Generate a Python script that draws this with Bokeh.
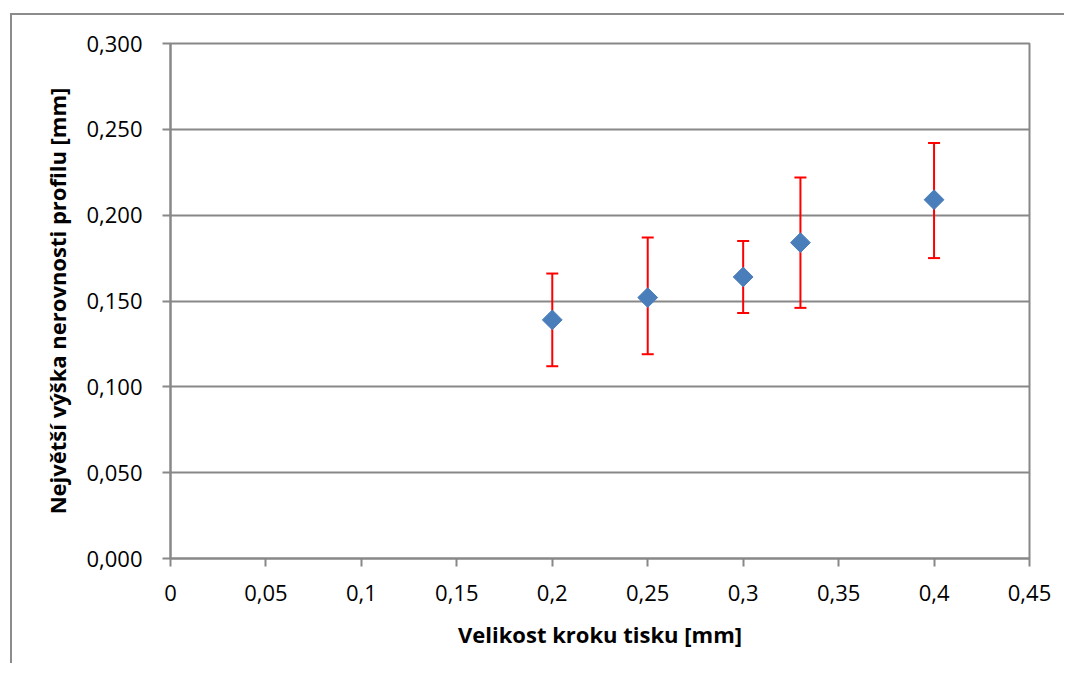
from bokeh.plotting import figure
from bokeh.models import Range1d, FixedTicker
from bokeh.embed import file_html
from bokeh.resources import INLINE
import math

# data
step = [0.2, 0.25, 0.3, 0.33, 0.4]
rz = [0.139, 0.152, 0.164, 0.184, 0.209]
rz_upper = [0.166, 0.187, 0.185, 0.222, 0.242]
rz_lower = [0.112, 0.119, 0.143, 0.146, 0.175]

x_ticks = [0, 0.05, 0.1, 0.15, 0.2, 0.25, 0.3, 0.35, 0.4, 0.45]
x_labels = ["0", "0,05", "0,1", "0,15", "0,2", "0,25", "0,3", "0,35", "0,4", "0,45"]
y_ticks = [0, 0.05, 0.1, 0.15, 0.2, 0.25, 0.3]
y_labels = ["0,000", "0,050", "0,100", "0,150", "0,200", "0,250", "0,300"]

FONT = "Open Sans"
GRAY = "#888888"

p = figure(width=1054, height=650, output_backend="svg", toolbar_location=None,
           x_range=Range1d(0, 0.45), y_range=Range1d(0, 0.3),
           min_border_left=158, min_border_right=37, min_border_top=28, min_border_bottom=107,
           styles={"border-left": "2px solid #8c8c8c", "border-top": "2px solid #8c8c8c",
                   "margin-left": "10px", "margin-top": "13px"})

p.xgrid.visible = False
p.ygrid.grid_line_color = GRAY
p.ygrid.grid_line_width = 2
p.outline_line_color = GRAY
p.outline_line_width = 2

p.xaxis.ticker = FixedTicker(ticks=x_ticks)
p.xaxis.major_label_overrides = dict(zip(x_ticks, x_labels))
p.yaxis.ticker = FixedTicker(ticks=y_ticks)
p.yaxis.major_label_overrides = dict(zip(y_ticks, y_labels))

for ax in (p.xaxis, p.yaxis):
    ax.axis_line_color = GRAY
    ax.axis_line_width = 2
    ax.major_tick_line_color = GRAY
    ax.major_tick_line_width = 2
    ax.major_tick_out = 8
    ax.major_tick_in = 0
    ax.minor_tick_out = 0
    ax.minor_tick_in = 0
    ax.major_label_text_font = FONT
    ax.major_label_text_font_size = "22px"
    ax.major_label_text_color = "black"
    ax.axis_label_text_font = FONT
    ax.axis_label_text_font_size = "22px"
    ax.axis_label_text_font_style = "bold"
    ax.axis_label_text_color = "black"

p.xaxis.axis_label = "Velikost kroku tisku [mm]"
p.yaxis.axis_label = "Největší výška nerovnosti profilu [mm]"
p.xaxis.major_label_standoff = 18
p.yaxis.major_label_standoff = 20
p.xaxis.axis_label_standoff = 15
p.yaxis.axis_label_standoff = 11

# error bars
p.segment(x0=step, y0=rz_lower, x1=step, y1=rz_upper, line_color="#ff0000", line_width=2)
p.scatter(x=step, y=rz_upper, marker="dash", size=12, line_color="#ff0000", line_width=2)
p.scatter(x=step, y=rz_lower, marker="dash", size=12, line_color="#ff0000", line_width=2)

# points
p.scatter(x=step, y=rz, marker="square", size=14, angle=math.pi / 4,
          fill_color="#4a7ebb", line_color="#4a7ebb")

open("out.html", "w").write(file_html(p, INLINE))
